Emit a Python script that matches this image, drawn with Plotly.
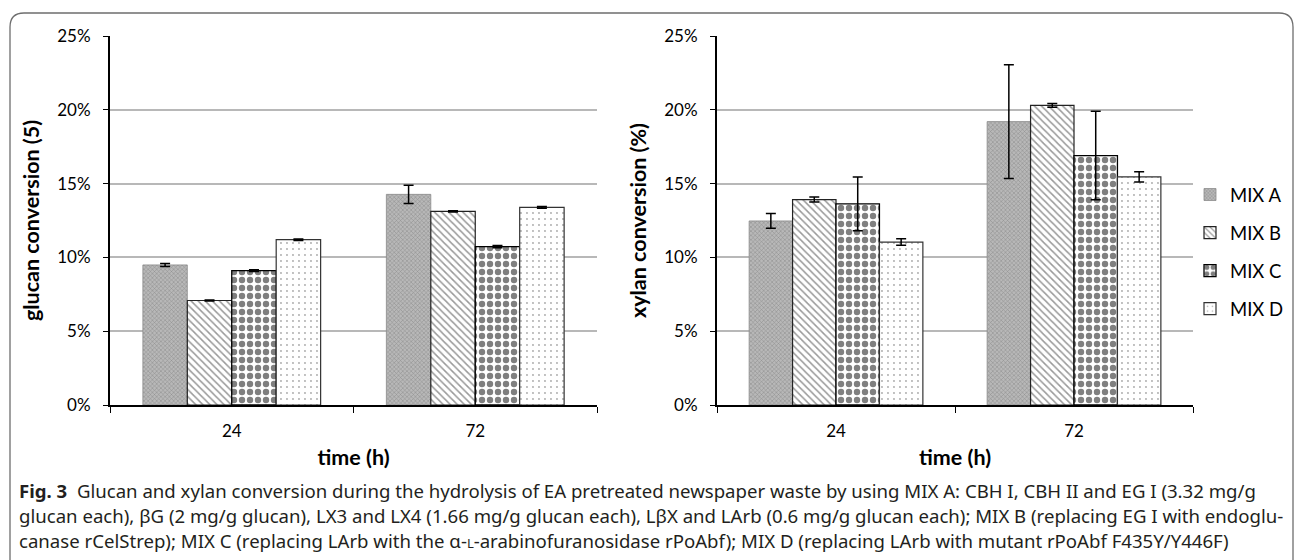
import plotly.graph_objects as go

W, H = 1295, 560
times = ["24", "72"]
mixes = ["MIX A", "MIX B", "MIX C", "MIX D"]
glucan = {"MIX A": [9.49, 14.27], "MIX B": [7.08, 13.12], "MIX C": [9.10, 10.73], "MIX D": [11.20, 13.39]}
glucan_err = {"MIX A": [0.10, 0.62], "MIX B": [0.03, 0.04], "MIX C": [0.06, 0.08], "MIX D": [0.05, 0.06]}
xylan = {"MIX A": [12.47, 19.20], "MIX B": [13.92, 20.30], "MIX C": [13.62, 16.90], "MIX D": [11.04, 15.45]}
xylan_err = {"MIX A": [0.50, 3.85], "MIX B": [0.17, 0.12], "MIX C": [1.82, 3.00], "MIX D": [0.22, 0.35]}
yticks = [0, 5, 10, 15, 20, 25]
ytick_labels = ["0%", "5%", "10%", "15%", "20%", "25%"]

styles = {
    "MIX A": dict(color="#a8a8a8", pattern=dict(shape="x", fgcolor="#5a5a5a", bgcolor="#b8b8b8", size=3, solidity=0.3), line=dict(color="#8a8a8a", width=0.8)),
    "MIX B": dict(color="white", pattern=dict(shape="\\", fgcolor="#333333", bgcolor="white", size=5, solidity=0.3), line=dict(color="#222222", width=1.2)),
    "MIX C": dict(color="white", pattern=dict(shape=".", fgcolor="black", bgcolor="white", size=8, solidity=0.5), line=dict(color="black", width=1.3)),
    "MIX D": dict(color="white", pattern=dict(shape=".", fgcolor="#555555", bgcolor="white", size=6, solidity=0.08), line=dict(color="#333333", width=1.2)),
}

fig = go.Figure()
for i, m in enumerate(mixes):
    st = styles[m]
    for data, err, xa, ya, show in [(glucan, glucan_err, "x", "y", True), (xylan, xylan_err, "x2", "y2", False)]:
        fig.add_trace(go.Bar(
            x=times, y=data[m], name=m, xaxis=xa, yaxis=ya,
            legendgroup=m, showlegend=show,
            marker=dict(color=st["color"], pattern=st["pattern"], line=st["line"]),
            error_y=dict(type="data", array=err[m], color="black", thickness=1.5, width=5),
        ))

font = "Lato"
ax_common = dict(type="category", showline=True, linecolor="black", linewidth=2,
                 ticks="outside", tickson="boundaries", ticklen=6, tickcolor="black",
                 ticklabelstandoff=10,
                 tickfont=dict(family=font, size=17, color="black"))
yax_common = dict(range=[0, 25], tickvals=yticks, ticktext=ytick_labels, showgrid=True,
                  gridcolor="#b8b8b8", gridwidth=1.5, showline=True, linecolor="black", linewidth=2,
                  ticks="outside", ticklen=5, tickcolor="black", zeroline=False,
                  ticklabelstandoff=9,
                  tickfont=dict(family=font, size=17, color="black"))

xt = dict(text="<b>time (h)</b>", font=dict(family=font, size=21.5, color="black"), standoff=10)
ydom = [1 - 405 / H, 1 - 36 / H]
fig.update_layout(
    width=W, height=H, margin=dict(l=0, r=0, t=0, b=0, autoexpand=False),
    paper_bgcolor="white", plot_bgcolor="white",
    barmode="group", bargap=0.27, bargroupgap=0,
    xaxis=dict(domain=[110 / W, 597 / W], anchor="y", **ax_common, title=xt),
    yaxis=dict(domain=ydom, anchor="x", **yax_common,
               title=dict(text="<b>glucan conversion (5)</b>", font=dict(family=font, size=21.5, color="black"), standoff=12)),
    xaxis2=dict(domain=[717 / W, 1193 / W], anchor="y2", **ax_common, title=xt),
    yaxis2=dict(domain=ydom, anchor="x2", **yax_common,
                title=dict(text="<b>xylan conversion (%)</b>", font=dict(family=font, size=21.5, color="black"), standoff=12)),
    legend=dict(x=1190 / W, y=1 - 176 / H, xanchor="left", yanchor="top",
                font=dict(family=font, size=18.5, color="black"), traceorder="grouped",
                tracegroupgap=11, itemwidth=30, bgcolor="rgba(0,0,0,0)"),
)

# rounded frame
x0, x1, y0, y1, r = 10, 1293, 13, 590, 14
def px(x): return x / W
def py(y): return 1 - y / H
path = (f"M {px(x0 + r)},{py(y0)} L {px(x1 - r)},{py(y0)} Q {px(x1)},{py(y0)} {px(x1)},{py(y0 + r)} "
        f"L {px(x1)},{py(y1 - r)} Q {px(x1)},{py(y1)} {px(x1 - r)},{py(y1)} "
        f"L {px(x0 + r)},{py(y1)} Q {px(x0)},{py(y1)} {px(x0)},{py(y1 - r)} "
        f"L {px(x0)},{py(y0 + r)} Q {px(x0)},{py(y0)} {px(x0 + r)},{py(y0)} Z")
fig.add_shape(type="path", path=path, xref="paper", yref="paper", line=dict(color="#6e6e6e", width=1.3))

cap_font = dict(family="Noto Sans", size=18.6, color="#231f20")
lines = [
    "<b>Fig. 3</b>  Glucan and xylan conversion during the hydrolysis of EA pretreated newspaper waste by using MIX A: CBH I, CBH II and EG I (3.32 mg/g",
    "glucan each), βG (2 mg/g glucan), LX3 and LX4 (1.66 mg/g glucan each), LβX and LArb (0.6 mg/g glucan each); MIX B (replacing EG I with endoglu-",
    "canase rCelStrep); MIX C (replacing LArb with the α-<span style='font-size:13px'>L</span>-arabinofuranosidase rPoAbf); MIX D (replacing LArb with mutant rPoAbf F435Y/Y446F)",
]
for i, (t, yy) in enumerate(zip(lines, [490, 515, 540])):
    fig.add_annotation(text=t, x=17 / W, y=py(yy), xref="paper", yref="paper",
                       xanchor="left", yanchor="middle", showarrow=False, font=cap_font)

fig.write_html("out.html", config={"responsive": False, "displayModeBar": False},
               post_script="document.body.style.margin='0';document.body.style.overflow='hidden';")
